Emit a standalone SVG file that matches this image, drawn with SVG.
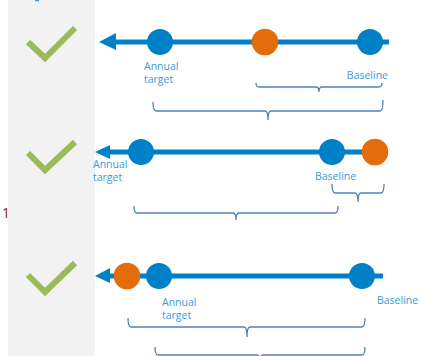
<svg xmlns="http://www.w3.org/2000/svg" width="421" height="356" viewBox="0 0 421 356">
  <defs>
    <style>
      .panel { fill: #f2f2f2; }
      .check { fill: none; stroke: #9bbb59; stroke-width: 6; stroke-linejoin: miter; }
      .axis { stroke: #0080c6; stroke-width: 5; fill: none; }
      .head { fill: #0080c6; }
      .blue { fill: #0080c6; }
      .orange { fill: #e46c0a; }
      .label { font-family: "Open Sans", "Liberation Sans", sans-serif; font-size: 10.5px; fill: #3a9ad9; }
      .brace { fill: none; stroke: #4f81bd; stroke-width: 1.3; }
      .num { font-family: "Open Sans", "Liberation Sans", sans-serif; font-size: 14px; fill: #8b1a1a; }
    </style>
  </defs>

  <rect width="421" height="356" fill="#ffffff"/>
  <text class="num" x="2" y="218">1</text>
  <rect class="panel" x="8" y="0" width="87" height="356"/>
  <rect x="35" y="0" width="4" height="1.2" fill="#3a9ad9"/>

  <!-- status ticks -->
  <g id="check1"><path class="check" d="M28,42 L45,58 L75,28"/></g>
  <g id="check2"><path class="check" d="M28,153 L45,170 L75,142"/></g>
  <g id="check3"><path class="check" d="M28,275 L45,292 L75,263"/></g>

  <!-- timelines -->
  <g id="connectors">
    <line class="axis" x1="112" y1="42" x2="389" y2="42"/>
    <polygon class="head" points="99,42 116,33 116,50"/>
    <line class="axis" x1="106" y1="152" x2="375" y2="152"/>
    <polygon class="head" points="95,152 110,145 110,159"/>
    <line class="axis" x1="106" y1="276" x2="383" y2="276"/>
    <polygon class="head" points="95,276 110,268 110,283"/>

    <!-- braces -->
    <path class="brace" d="M256,83 Q256,87 259,87 H316 Q319,87 319,92 Q319,87 322,87 H379 Q382,87 382,83"/>
    <path class="brace" d="M153,102 Q153,111 156,111 H265 Q268,111 268,120 Q268,111 271,111 H380 Q383,111 383,100"/>
    <path class="brace" d="M332,184 Q332,193 335,193 H355 Q358,193 358,202 Q358,193 361,193 H381 Q384,193 384,184"/>
    <path class="brace" d="M134,206 Q134,213 137,213 H233 Q236,213 236,220 Q236,213 239,213 H335 Q338,213 338,206"/>
    <path class="brace" d="M128,318 Q128,327 131,327 H244 Q247,327 247,337 Q247,327 250,327 H362 Q365,327 365,318"/>
    <path class="brace" d="M155,347 Q155,355 158,355 H257 Q260,355 260,362 Q260,355 263,355 H362 Q365,355 365,347"/>
  </g>

  <!-- row 1 -->
  <g id="row1-target"><circle class="blue" cx="160" cy="42" r="13"/>
    <text class="label" x="144" y="70">Annual</text>
    <text class="label" x="144" y="82.5">target</text></g>
  <g id="row1-current"><circle class="orange" cx="265" cy="42" r="13.3"/></g>
  <g id="row1-baseline"><circle class="blue" cx="370" cy="42" r="13"/>
    <text class="label" x="388" y="79" text-anchor="end">Baseline</text></g>

  <!-- row 2 -->
  <g id="row2-target"><circle class="blue" cx="141" cy="152" r="13"/>
    <text class="label" x="93" y="168">Annual</text>
    <text class="label" x="93" y="180.5">target</text></g>
  <g id="row2-baseline"><circle class="blue" cx="332" cy="152" r="13"/>
    <text class="label" x="315" y="180">Baseline</text></g>
  <g id="row2-current"><circle class="orange" cx="375" cy="152" r="13.3"/></g>

  <!-- row 3 -->
  <g id="row3-current"><circle class="orange" cx="127" cy="276" r="13.3"/></g>
  <g id="row3-target"><circle class="blue" cx="159" cy="276" r="13"/>
    <text class="label" x="162" y="306">Annual</text>
    <text class="label" x="162" y="319">target</text></g>
  <g id="row3-baseline"><circle class="blue" cx="362" cy="276" r="13"/>
    <text class="label" x="377" y="304">Baseline</text></g>
</svg>
